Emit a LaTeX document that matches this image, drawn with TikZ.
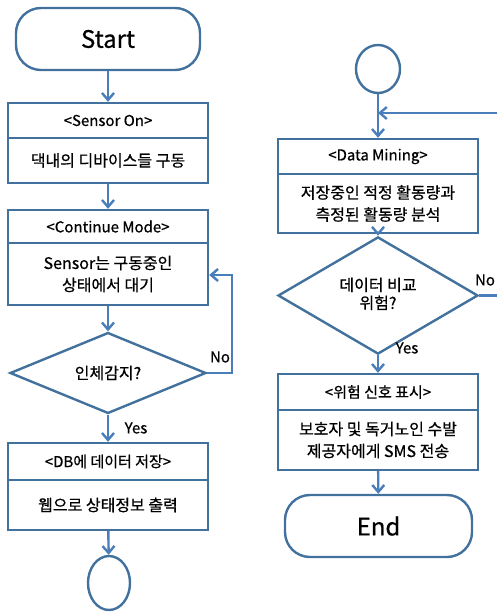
\documentclass[tikz,border=0pt]{standalone}
\usepackage{fontspec}
\setmainfont{Noto Sans CJK KR}[FakeBold=0.6]
\usetikzlibrary{shapes.geometric,arrows.meta}
\definecolor{bord}{HTML}{41719C}
\definecolor{arr}{HTML}{4A7EBB}
\begin{document}
\begin{tikzpicture}[x=1pt,y=-1pt,
  box/.style={draw=bord, line width=2.4pt, minimum width=200pt, inner sep=0pt, align=center, fill=white},
  hdr/.style={box, font=\fontsize{15}{17}\selectfont},
  body/.style={box, font=\fontsize{16}{22}\selectfont},
  term/.style={draw=bord, line width=2.4pt, rounded corners=25pt, minimum height=62pt, inner sep=0pt, font=\fontsize{24}{28}\selectfont},
  dec/.style={draw=bord, line width=2.4pt, diamond, inner sep=0pt, align=center, font=\fontsize{16}{22}\selectfont},
  conn/.style={draw=bord, line width=2.4pt, ellipse, inner sep=0pt},
  flow/.style={draw=arr, line width=2.4pt, -{Straight Barb[length=7pt,width=12pt,line width=2.4pt]}},
  lab/.style={font=\fontsize{15}{18}\selectfont, inner sep=0pt}
]
\useasboundingbox (0,0) rectangle (496,612);
% left column
\node[term, minimum width=184pt] (start) at (108,39) {Start};
\node[hdr, minimum height=35pt] (s1h) at (108,120.5) {<Sensor On>};
\node[body, minimum height=45pt] (s1b) at (108,160.5) {댁내의 디바이스들 구동};
\node[hdr, minimum height=33pt] (s2h) at (108,226.5) {<Continue Mode>};
\node[body, minimum height=62pt] (s2b) at (108,274) {Sensor는 구동중인\\상태에서 대기};
\node[dec, minimum width=196pt, minimum height=70pt] (d1) at (108,373) {\raisebox{-2pt}{인체감지?}};
\node[hdr, minimum height=37pt] (s3h) at (108,461.5) {<DB에 데이터 저장>};
\node[body, minimum height=50pt] (s3b) at (108,505) {웹으로 상태정보 출력};
\node[conn, minimum width=42pt, minimum height=54pt] (c1) at (109,583) {};
% right column
\node[conn, minimum width=44pt, minimum height=48pt] (c2) at (378,69) {};
\node[hdr, minimum height=35pt] (r1h) at (378,156.5) {<Data Mining>};
\node[body, minimum height=59pt] (r1b) at (378,203.5) {저장중인 적정 활동량과\\측정된 활동량 분석};
\node[dec, minimum width=200pt, minimum height=69pt] (d2) at (378,295.5) {\raisebox{-3pt}{\begin{tabular}{@{}c@{}}데이터 비교\\[-4pt]위험?\end{tabular}}};
\node[hdr, minimum height=36pt] (r2h) at (378,392) {<위험 신호 표시>};
\node[body, minimum height=60pt] (r2b) at (378,440) {보호자 및 독거노인 수발\\제공자에게 SMS 전송};
\node[term, minimum width=187pt] (end) at (378.5,526) {End};
% coordinates
\coordinate (l1) at (232,373);
\coordinate (l2) at (232,275);
\coordinate (r1) at (500,295.5);
\coordinate (r2) at (500,113);
\coordinate (r3) at (378,113);
% connectors
\draw[flow] (start) -- (s1h);
\draw[flow] (s1b) -- (s2h);
\draw[flow] (s2b) -- (d1);
\draw[flow] (d1) -- (s3h);
\draw[flow] (s3b) -- (c1);
\draw[flow] (d1.east) -- (l1) -- (l2) -- (s2b.east |- l2);
\draw[flow] (c2) -- (r1h);
\draw[flow] (r1b) -- (d2);
\draw[flow] (d2) -- (r2h);
\draw[flow] (r2b) -- (end);
\draw[flow] (d2.east) -- (r1) -- (r2) -- (r3);
% labels
\node[lab] (no1) at (220,357) {No};
\node[lab] (yes1) at (136,428) {Yes};
\node[lab] (no2) at (485,280) {No};
\node[lab] (yes2) at (407,348) {Yes};
\end{tikzpicture}
\end{document}
